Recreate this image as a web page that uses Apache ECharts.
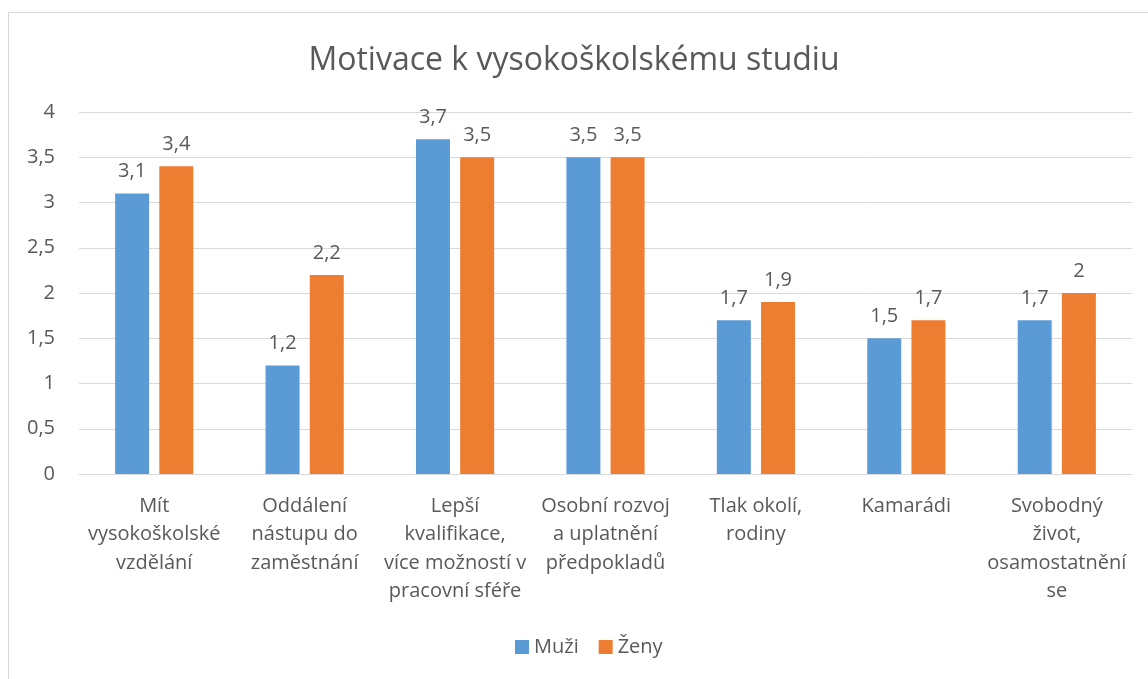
<!DOCTYPE html>
<html lang="cs">
<head>
  <meta charset="UTF-8">
  <title>Motivace k vysokoškolskému studiu</title>
  <script src="https://cdn.jsdelivr.net/npm/echarts@6/dist/echarts.min.js"></script>
  <style>
    html, body {
      margin: 0;
      padding: 0;
      width: 100%;
      height: 100%;
      overflow: hidden;
      background: #fff;
    }
    .frame {
      position: absolute;
      left: 8px;
      top: 12px;
      width: 1200px;
      height: 800px;
      border-left: 1px solid #d9d9d9;
      border-top: 1px solid #d9d9d9;
    }
    #main {
      position: absolute;
      left: 0;
      top: 0;
      width: 1148px;
      height: 679px;
    }
  </style>
</head>
<body>
  <div class="frame"></div>
  <div id="main"></div>

  <script>
    const categories = [
      'Mít\nvysokoškolské\nvzdělání',
      'Oddálení\nnástupu do\nzaměstnání',
      'Lepší\nkvalifikace,\nvíce možností v\npracovní sféře',
      'Osobní rozvoj\na uplatnění\npředpokladů',
      'Tlak okolí,\nrodiny',
      'Kamarádi',
      'Svobodný\nživot,\nosamostatnění\nse'
    ];
    const muzi = [3.1, 1.2, 3.7, 3.5, 1.7, 1.5, 1.7];
    const zeny = [3.4, 2.2, 3.5, 3.5, 1.9, 1.7, 2];

    const font = 'Open Sans';
    const textColor = '#595959';

    function fmt(p) {
      return String(p.value).replace('.', ',');
    }

    const chart = echarts.init(document.getElementById('main'));

    const option = {
      animation: false,
      title: {
        text: 'Motivace k vysokoškolskému studiu',
        left: 'center',
        top: 40,
        textStyle: {
          fontFamily: font,
          fontSize: 32,
          fontWeight: 'normal',
          color: textColor
        }
      },
      legend: {
        bottom: 17,
        left: 510,
        itemWidth: 14,
        itemHeight: 14,
        itemGap: 20,
        icon: 'rect',
        data: ['Muži', 'Ženy'],
        textStyle: {
          fontFamily: font,
          fontSize: 20,
          color: textColor
        }
      },
      grid: {
        left: 79,
        right: 16,
        top: 112,
        bottom: 205
      },
      xAxis: {
        type: 'category',
        data: categories,
        axisLine: { lineStyle: { color: '#d9d9d9', width: 1 } },
        axisTick: { show: false },
        axisLabel: {
          interval: 0,
          margin: 18,
          fontFamily: font,
          fontSize: 20,
          lineHeight: 28.5,
          color: textColor
        }
      },
      yAxis: {
        type: 'value',
        min: 0,
        max: 4,
        interval: 0.5,
        axisLine: { show: false },
        axisTick: { show: false },
        splitLine: { lineStyle: { color: '#d9d9d9', width: 1 } },
        axisLabel: {
          margin: 24,
          fontFamily: font,
          fontSize: 20,
          color: textColor,
          formatter: v => String(v).replace('.', ',')
        }
      },
      series: [
        {
          name: 'Muži',
          type: 'bar',
          data: muzi,
          barWidth: '22.6%',
          barGap: '30%',
          itemStyle: { color: '#5b9bd5' },
          label: {
            show: true,
            position: 'top',
            distance: 12,
            fontFamily: font,
            fontSize: 20,
            color: textColor,
            formatter: fmt
          }
        },
        {
          name: 'Ženy',
          type: 'bar',
          data: zeny,
          barWidth: '22.6%',
          itemStyle: { color: '#ed7d31' },
          label: {
            show: true,
            position: 'top',
            distance: 12,
            fontFamily: font,
            fontSize: 20,
            color: textColor,
            formatter: fmt
          }
        }
      ]
    };

    chart.setOption(option);
    window.addEventListener('resize', () => chart.resize());
  </script>
</body>
</html>
